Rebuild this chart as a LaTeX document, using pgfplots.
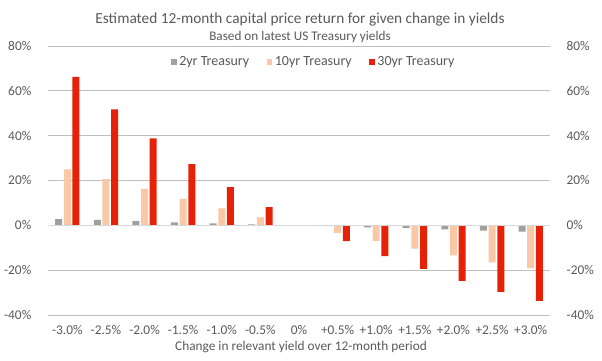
\documentclass[border=0pt]{standalone}
\usepackage{pgfplots}
\pgfplotsset{compat=1.18}
\usepackage{fontspec}
\setmainfont{Carlito}
\definecolor{txt}{HTML}{595959}
\definecolor{grid}{HTML}{D9D9D9}
\definecolor{c2}{HTML}{A0A0A0}
\definecolor{c10}{HTML}{F9C8A6}
\definecolor{c30}{HTML}{E52207}
\pgfplotstableread{
x y2 y10 y30
0 2.8 25.0 66.2
1 2.4 20.6 51.7
2 1.9 16.1 38.8
3 1.3 11.8 27.3
4 0.9 7.6 17.1
5 0.4 3.6 8.1
6 0 0 0
7 -0.3 -3.4 -7.1
8 -0.9 -6.9 -13.7
9 -1.3 -10.4 -19.4
10 -1.8 -13.4 -24.8
11 -2.4 -16.5 -29.7
12 -2.8 -19.2 -33.7
}\data
\begin{document}
\begin{tikzpicture}[x=0.75pt,y=0.75pt]
\useasboundingbox (0,0) rectangle (602,360);
\node[txt,font=\fontsize{11.5}{14}\selectfont] at (300,340) {Estimated 12-month capital price return for given change in yields};
\node[txt,font=\fontsize{9.9}{11}\selectfont] at (300,323) {Based on latest US Treasury yields};
\node[txt,font=\fontsize{10}{12}\selectfont] at (301,13) {Change in relevant yield over 12-month period};
\begin{axis}[
  at={(36pt,33.75pt)}, anchor=south west,
  scale only axis, width=376.5pt, height=201.75pt,
  ybar=1.25pt, bar width=5.25pt,
  xmin=-0.5, xmax=12.5, ymin=-40, ymax=80,
  xtick={0,...,12},
  xticklabels={-3.0\%,-2.5\%,-2.0\%,-1.5\%,-1.0\%,-0.5\%,0\%,+0.5\%,+1.0\%,+1.5\%,+2.0\%,+2.5\%,+3.0\%},
  ytick={-40,-20,0,20,40,60,80},
  yticklabels={-40\%,-20\%,0\%,20\%,40\%,60\%,80\%},
  xmajorgrids=false, xminorgrids=false,
  ymajorgrids, grid style={grid, line width=0.6pt},
  axis line style={draw=none},
  major tick length=0pt,
  tick label style={txt, font=\fontsize{10}{12}\selectfont},
  xticklabel style={yshift=-4pt},
  yticklabel style={xshift=-9pt},
  legend style={at={(0.53,0.94)}, anchor=center, draw=none, fill=none,
    legend columns=-1, font=\fontsize{10.5}{12}\selectfont, text=txt},
  legend image code/.code={\fill[#1] (0pt,-2.1pt) rectangle (4.2pt,2.1pt);},
  clip=false,
]
\addplot[fill=c2, draw=none] table[x=x,y=y2] {\data};
\addlegendentry{\mbox{2yr Treasury\kern 11pt}}
\addplot[fill=c10, draw=none] table[x=x,y=y10] {\data};
\addlegendentry{\mbox{10yr Treasury\kern 11pt}}
\addplot[fill=c30, draw=none] table[x=x,y=y30] {\data};
\addlegendentry{30yr Treasury}
\draw[grid, line width=0.8pt] (axis cs:-0.5,0) -- (axis cs:12.5,0);
\end{axis}
\begin{axis}[
  at={(36pt,33.75pt)}, anchor=south west,
  scale only axis, width=376.5pt, height=201.75pt,
  xmin=-0.5, xmax=12.5, ymin=-40, ymax=80,
  axis y line*=right, axis x line=none,
  axis line style={draw=none},
  ytick={-40,-20,0,20,40,60,80},
  yticklabels={-40\%,-20\%,0\%,20\%,40\%,60\%,80\%},
  major tick length=0pt,
  tick label style={txt, font=\fontsize{10}{12}\selectfont},
  yticklabel style={xshift=9pt},
]
\addplot[draw=none] coordinates {(0,0)};
\end{axis}
\end{tikzpicture}
\end{document}
